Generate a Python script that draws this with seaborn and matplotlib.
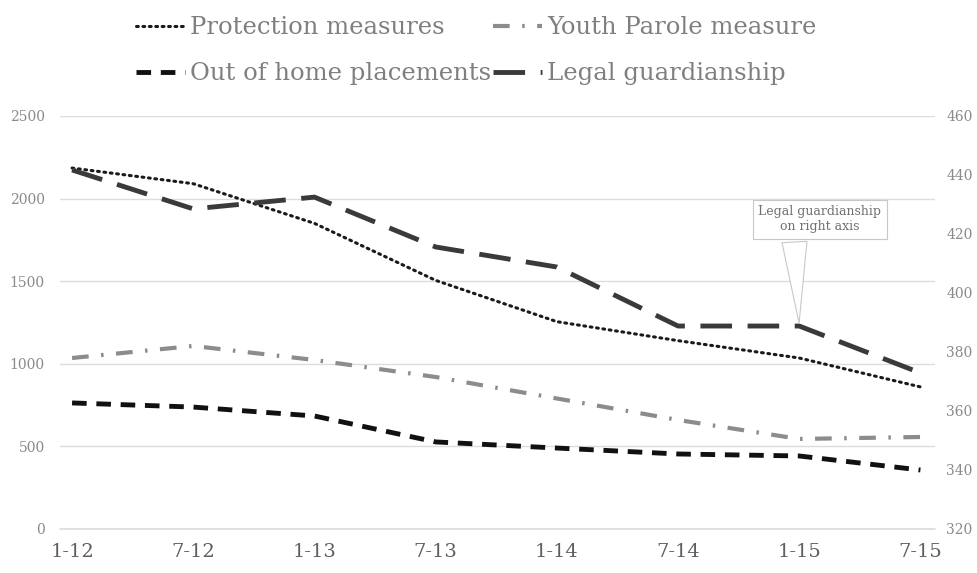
import numpy as np
import pandas as pd
import seaborn as sns
from matplotlib import pyplot as plt

sns.set_style('white')
plt.rcParams['font.family'] = ['DejaVu Serif']

periods = ['1-12', '7-12', '1-13', '7-13', '1-14', '7-14', '1-15', '7-15']
protection = [2185, 2090, 1850, 1505, 1255, 1140, 1035, 860]
youth_parole = [1035, 1108, 1023, 920, 790, 660, 545, 557]
out_of_home = [763, 738, 684, 527, 490, 454, 442, 357]
legal_guardianship = [441.7, 428.5, 432.5, 415.6, 408.8, 388.8, 388.8, 372.9]

df = pd.DataFrame({'pos': np.arange(len(periods)),
                   'protection': protection,
                   'youth': youth_parole,
                   'home': out_of_home,
                   'legal': legal_guardianship})

fig = plt.figure(figsize=(9.78, 5.73), dpi=100)
ax = fig.add_axes([0.0613, 0.0768, 0.8947, 0.7208])
ax2 = ax.twinx()

sns.lineplot(x='pos', y='protection', data=df, ax=ax, color='#1a1a1a', lw=2.2,
             label='Protection measures')
sns.lineplot(x='pos', y='youth', data=df, ax=ax, color='#8c8c8c', lw=3,
             label='Youth Parole measure')
sns.lineplot(x='pos', y='home', data=df, ax=ax, color='#111111', lw=3.5,
             label='Out of home placements')
sns.lineplot(x='pos', y='legal', data=df, ax=ax2, color='#3a3a3a', lw=3.5,
             label='Legal guardianship')

l_prot, l_youth, l_home = ax.get_lines()[:3]
l_legal = ax2.get_lines()[0]
l_prot.set_linestyle((0, (0.6, 1.5)))
l_prot.set_dash_capstyle('round')
l_youth.set_linestyle((0, (4, 3, 0.6, 3)))
l_home.set_linestyle((0, (3, 2)))
l_legal.set_linestyle((0, (6.5, 3.2)))

ax.set_ylim(0, 2500)
ax.set_yticks(np.arange(0, 2501, 500))
ax2.set_ylim(320, 460)
ax2.set_yticks(np.arange(320, 461, 20))
ax.set_xlim(-0.1, 7.12)
ax.set_xticks(df['pos'])
ax.set_xticklabels(periods)
ax.set_xlabel('')
ax.set_ylabel('')
ax2.set_ylabel('')

ax.yaxis.grid(True, color='#dcdcdc', lw=1)
ax.axhline(0, color='#dcdcdc', lw=1.2, clip_on=False, zorder=0)
ax.set_axisbelow(True)
for a in (ax, ax2):
    for s in a.spines.values():
        s.set_visible(False)
    a.tick_params(length=0)
ax.tick_params(axis='y', labelsize=10, labelcolor='#8a8a8a', pad=11)
ax2.tick_params(axis='y', labelsize=10, labelcolor='#8a8a8a', pad=8)
ax.tick_params(axis='x', labelsize=14, labelcolor='#5e5e5e', pad=10)

ax.get_legend().remove()
ax2.get_legend().remove()
fig.legend([l_prot, l_home, l_youth, l_legal],
           ['Protection measures', 'Out of home placements',
            'Youth Parole measure', 'Legal guardianship'],
           ncol=2, loc='upper center', bbox_to_anchor=(0.487, 1.01),
           frameon=False, fontsize=17.5, labelcolor='#7f7f7f',
           handlelength=2.0, handletextpad=0.2, columnspacing=0.1,
           labelspacing=0.95)

# callout for the right-axis series
ax2.annotate('Legal guardianship\non right axis', xy=(6, 388.8),
             xytext=(6.17, 425), ha='center', va='center', fontsize=9,
             color='#707070',
             bbox=dict(boxstyle='square,pad=0.45', fc='white', ec='#c8c8c8', lw=0.8),
             arrowprops=dict(arrowstyle='wedge,tail_width=2.0', fc='white',
                             ec='#c8c8c8', lw=0.8, relpos=(0.29, 0.0)))

fig.savefig('out.png', dpi=100)
